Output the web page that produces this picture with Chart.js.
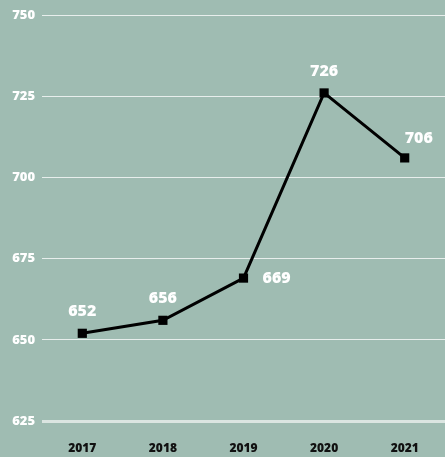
<!DOCTYPE html>
<html>
<head>
<meta charset="utf-8">
<style>
  html, body { margin: 0; padding: 0; background: #9fbcb2; }
  #wrap { width: 445px; height: 457px; }
</style>
<script src="https://cdn.jsdelivr.net/npm/chart.js@4"></script>
</head>
<body>
<div id="wrap"><canvas id="chart" width="445" height="457"></canvas></div>
<script>
// data
const years = ["2017", "2018", "2019", "2020", "2021"];
const values = [652, 656, 669, 726, 706];
const yTicks = [625, 650, 675, 700, 725, 750];

// where each value label sits relative to its point
const labelPlace = ["above", "above", "right", "above", "aboveRight"];

const FONT = "'Open Sans', 'DejaVu Sans', sans-serif";

const valueLabels = {
  id: "valueLabels",
  afterDatasetsDraw(chart) {
    const ctx = chart.ctx;
    const meta = chart.getDatasetMeta(0);
    ctx.save();
    ctx.fillStyle = "#ffffff";
    ctx.font = "800 16px " + FONT;
    ctx.textBaseline = "middle";
    meta.data.forEach((pt, i) => {
      const place = labelPlace[i];
      let x = pt.x, y = pt.y;
      ctx.textAlign = "center";
      if (place === "above") { y -= 22; }
      else if (place === "right") { x += 19; ctx.textAlign = "left"; }
      else if (place === "aboveRight") { x += 14; y -= 19; }
      ctx.fillText(String(values[i]), x, y);
    });
    ctx.restore();
  }
};

new Chart(document.getElementById("chart"), {
  type: "line",
  data: {
    labels: years,
    datasets: [{
      data: values,
      borderColor: "#000",
      borderWidth: 3,
      pointStyle: "rect",
      pointRadius: 6.5,
      pointBackgroundColor: "#000",
      pointBorderColor: "#000",
      pointBorderWidth: 0,
      tension: 0,
      clip: false
    }]
  },
  options: {
    responsive: false,
    animation: false,
    layout: { autoPadding: false, padding: { top: 15, right: -3, left: 0, bottom: 0 } },
    plugins: { legend: { display: false }, tooltip: { enabled: false } },
    scales: {
      x: {
        offset: true,
        grid: { display: false, drawTicks: false },
        border: { display: false },
        ticks: {
          color: "#111",
          padding: 20,
          font: { family: FONT, weight: "800", size: 12 }
        },
        afterFit(s) { s.height = 36; }
      },
      y: {
        min: 625,
        max: 750,
        afterBuildTicks(s) { s.ticks = yTicks.map(v => ({ value: v })); },
        grid: {
          drawTicks: false,
          color: c => c.tick && c.tick.value === 625 ? "#dbe5e1" : "rgba(255,255,255,0.75)",
          lineWidth: c => c.tick && c.tick.value === 625 ? 3 : 1
        },
        border: { display: false },
        ticks: {
          color: "#fff",
          padding: 7,
          font: { family: FONT, weight: "800", size: 13 }
        },
        afterFit(s) { s.width = 42; }
      }
    }
  },
  plugins: [valueLabels]
});
</script>
</body>
</html>
